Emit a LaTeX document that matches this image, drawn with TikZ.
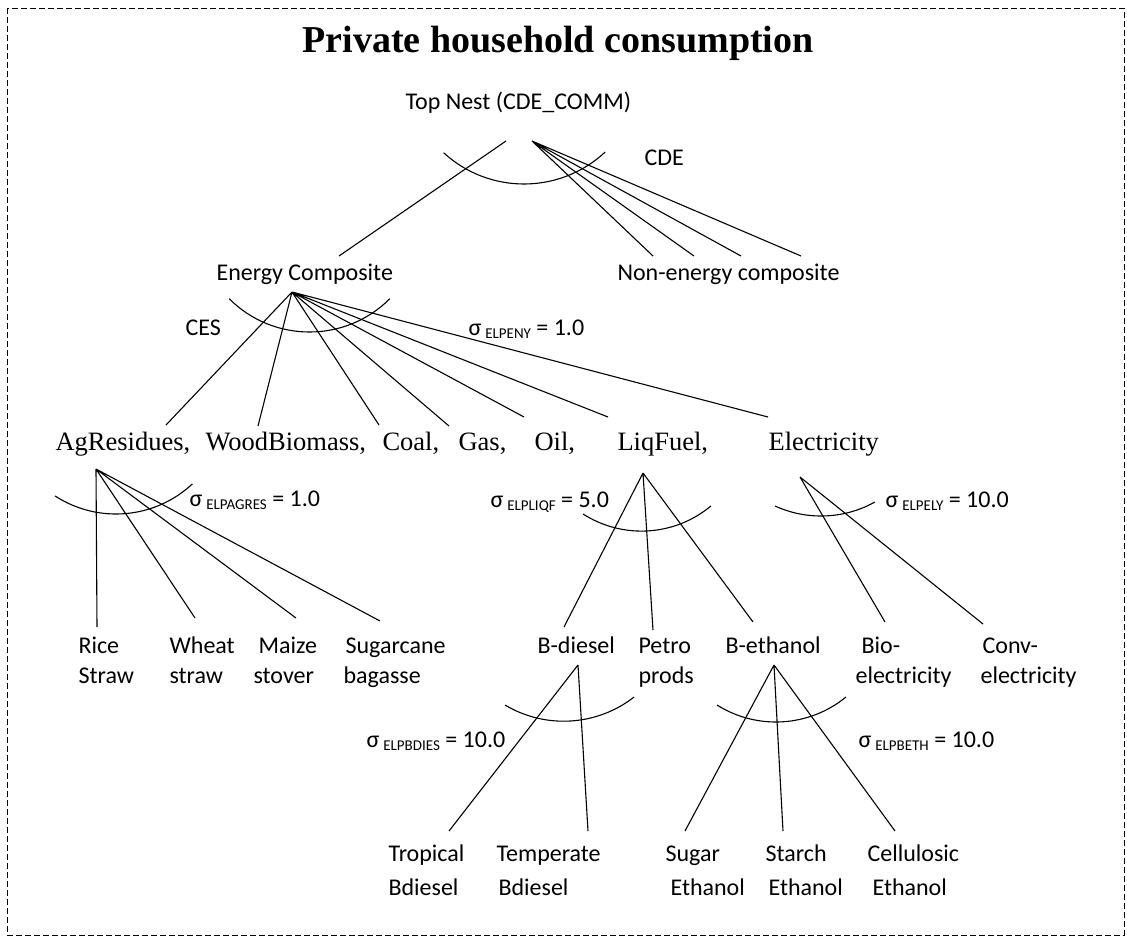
\documentclass[tikz,border=0pt]{standalone}
\usepackage{fontspec}
\setmainfont{Carlito}
\newfontfamily\timesfont{Liberation Serif}
\newcommand{\elast}[2]{σ\hspace{4pt}\raisebox{-3pt}{\fontsize{15}{15}\selectfont #1} = #2}

\begin{document}
\begin{tikzpicture}[x=1pt, y=1pt, line width=1.1pt,
    lbl/.style={anchor=base west, inner sep=0pt, font=\fontsize{24}{30}\selectfont},
    fuel/.style={anchor=base west, inner sep=0pt, font=\timesfont\fontsize{26.5}{30}\selectfont},
    leaf/.style={lbl, align=left},
    low/.style={anchor=base west, inner sep=0pt, align=left, font=\fontsize{24}{34}\selectfont}]
    \useasboundingbox (0,0) rectangle (1127,-938);
    \draw[line width=0.8pt, dash pattern=on 6pt off 3pt] (7,-8) rectangle (1124,-935);

    % titles and upper nests
    \node (title) at (302,-52) [anchor=base west, inner sep=0pt, font=\timesfont\bfseries\fontsize{38}{40}\selectfont] {Private household consumption};
    \node (top) at (405,-109) [lbl] {Top Nest (CDE\_COMM)};
    \node (cde) at (644,-165) [lbl] {CDE};
    \node (ec) at (216,-280) [lbl] {Energy Composite};
    \node (ne) at (617,-280) [lbl] {Non-energy composite};
    \node (ces) at (185,-335) [lbl] {CES};
    \node (seny) at (468,-335) [lbl] {\elast{ELPENY}{1.0}};

    % energy goods
    \node (ag) at (55,-450) [fuel] {AgResidues,};
    \node (wb) at (205,-450) [fuel] {WoodBiomass,};
    \node (coal) at (382,-450) [fuel] {Coal,};
    \node (gas) at (458,-450) [fuel] {Gas,};
    \node (oil) at (534,-450) [fuel] {Oil,};
    \node (liq) at (617,-450) [fuel] {LiqFuel,};
    \node (elec) at (768,-450) [fuel] {Electricity};
    \node (sagr) at (189,-506) [lbl] {\elast{ELPAGRES}{1.0}};
    \node (sliq) at (490,-507) [lbl] {\elast{ELPLIQF}{5.0}};
    \node (sely) at (885,-507) [lbl] {\elast{ELPELY}{10.0}};

    % third level (base = last line)
    \node (rice) at (78,-683) [leaf] {Rice\\Straw};
    \node (wheat) at (169,-683) [leaf] {Wheat\\straw};
    \node (maize) at (253,-683) [leaf] {\hspace*{5pt}Maize\\stover};
    \node (sugc) at (343,-683) [leaf] {\hspace*{2pt}Sugarcane\\bagasse};
    \node (bdies) at (537,-653) [leaf] {B-diesel};
    \node (petro) at (638,-683) [leaf] {Petro\\prods};
    \node (beth) at (725,-653) [leaf] {B-ethanol};
    \node (bio) at (855,-683) [leaf] {\hspace*{6pt}Bio-\\electricity};
    \node (conv) at (980,-683) [leaf] {\hspace*{2pt}Conv-\\electricity};
    \node (sbd) at (366,-747) [lbl] {\elast{ELPBDIES}{10.0}};
    \node (sbe) at (858,-747) [lbl] {\elast{ELPBETH}{10.0}};

    % fourth level
    \node (trop) at (388,-895) [low] {Tropical\\Bdiesel};
    \node (temp) at (496,-895) [low] {Temperate\\\hspace*{2pt}Bdiesel};
    \node (sugar) at (665,-895) [low] {Sugar\\\hspace*{5pt}Ethanol};
    \node (starch) at (765,-895) [low] {Starch\\\hspace*{3pt}Ethanol};
    \node (cell) at (867,-895) [low] {Cellulosic\\\hspace*{5pt}Ethanol};

    % line ends
    \coordinate (tnL) at (506,-141);
    \coordinate (tnR) at (532,-141);
    \coordinate (ecT) at (339,-256);
    \coordinate (ne1) at (653,-256);
    \coordinate (ne2) at (694,-256);
    \coordinate (ne3) at (741,-256);
    \coordinate (ne4) at (801,-256);
    \coordinate (ecA) at (292,-292);
    \coordinate (agT) at (166,-425);
    \coordinate (wbT) at (258,-426);
    \coordinate (coT) at (379,-425);
    \coordinate (gaT) at (449,-426);
    \coordinate (oiT) at (524,-417);
    \coordinate (lqT) at (608,-417);
    \coordinate (elT) at (768,-417);
    \coordinate (agA) at (96,-469);
    \coordinate (riT) at (97,-627);
    \coordinate (whT) at (195,-618);
    \coordinate (maT) at (296,-618);
    \coordinate (suT) at (380,-621);
    \coordinate (lqA) at (643,-473);
    \coordinate (bdT) at (564,-627);
    \coordinate (ppT) at (653,-630);
    \coordinate (beT) at (753,-622);
    \coordinate (elA) at (800,-477);
    \coordinate (biT) at (885,-622);
    \coordinate (cvT) at (983,-624);
    \coordinate (bdA) at (578,-665);
    \coordinate (trT) at (449,-831);
    \coordinate (teT) at (588,-831);
    \coordinate (beA) at (774,-665);
    \coordinate (sgT) at (685,-831);
    \coordinate (stT) at (783,-831);
    \coordinate (ceT) at (895,-831);

    \draw (tnL) -- (ecT);
    \draw (tnR) -- (ne1) (tnR) -- (ne2) (tnR) -- (ne3) (tnR) -- (ne4);
    \draw (ecA) -- (agT) (ecA) -- (wbT) (ecA) -- (coT) (ecA) -- (gaT)
          (ecA) -- (oiT) (ecA) -- (lqT) (ecA) -- (elT);
    \draw (agA) -- (riT) (agA) -- (whT) (agA) -- (maT) (agA) -- (suT);
    \draw (lqA) -- (bdT) (lqA) -- (ppT) (lqA) -- (beT);
    \draw (elA) -- (biT) (elA) -- (cvT);
    \draw (bdA) -- (trT) (bdA) -- (teT);
    \draw (beA) -- (sgT) (beA) -- (stT) (beA) -- (ceT);

    % substitution arcs
    \foreach \cx/\cy/\r/\a/\b in {524/-65/119/227.5/313, 309.5/-218.5/113.5/225/315,
        116/-402/112/237/313, 641.5/-422.6/108.5/237.4/309.8, 821/-405/111/245.5/299.1,
        563.7/-606.7/114.5/239.2/307.9, 775.9/-611.3/110.7/237.8/309.3}
        \draw (\cx,\cy) ++(\a:\r) arc[start angle=\a, end angle=\b, radius=\r];
\end{tikzpicture}
\end{document}
